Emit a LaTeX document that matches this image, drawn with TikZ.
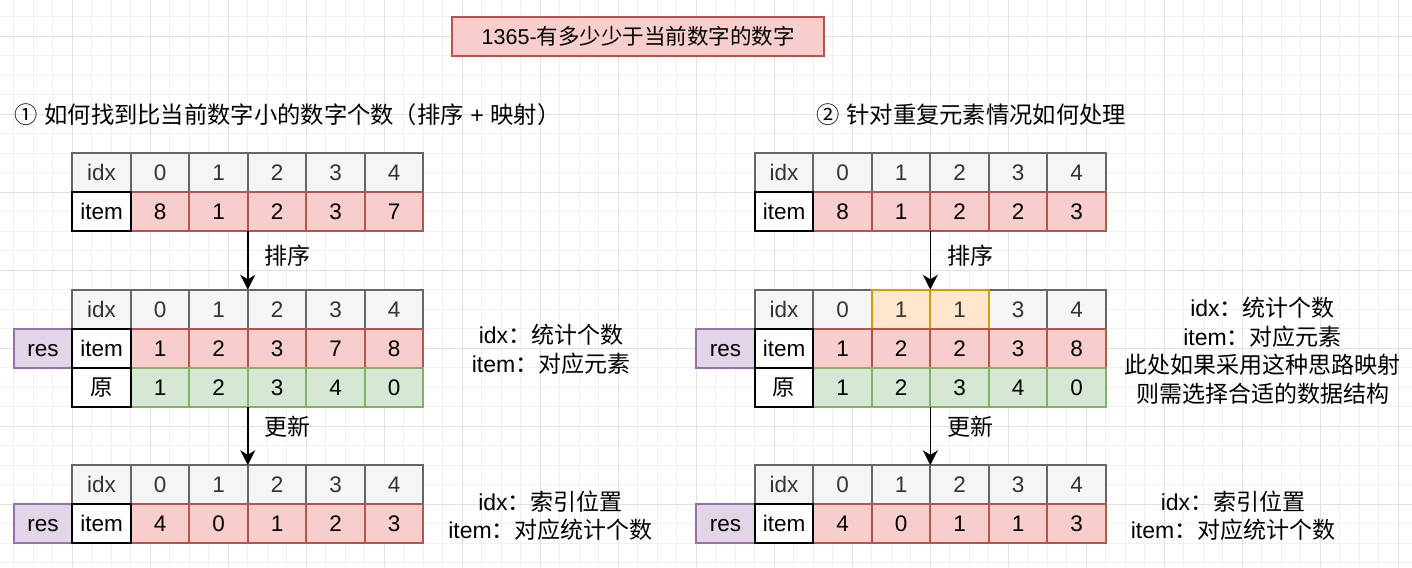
\documentclass[tikz,border=0pt]{standalone}
\usepackage{fontspec}
\setmainfont{Liberation Sans}
\newfontfamily\cjk{Noto Sans CJK SC}
\usetikzlibrary{arrows.meta}
\newcommand{\zh}[1]{{\cjk #1}}
\definecolor{gridminor}{HTML}{F0F0F0}
\definecolor{gridmajor}{HTML}{E0E0E0}
\definecolor{redfill}{HTML}{F8CECC}
\definecolor{redline}{HTML}{B85450}
\definecolor{greyfill}{HTML}{F5F5F5}
\definecolor{greyline}{HTML}{666666}
\definecolor{greenfill}{HTML}{D5E8D4}
\definecolor{greenline}{HTML}{82B366}
\definecolor{purplefill}{HTML}{E1D5E7}
\definecolor{purpleline}{HTML}{9673A6}
\definecolor{orangefill}{HTML}{FFE6CC}
\definecolor{orangeline}{HTML}{D79B00}
\definecolor{darktext}{HTML}{333333}
% #1 prefix, #2 X, #3 Y, #4 label style, #5 label, #6 list style/value
\newcommand{\tabrow}[6]{%
  \foreach \s/\v [count=\i] in {#6} {
    \node[\s] (#1\i) at ({#2+58.5*\i},#3) {\v};
  }
  \node[#4] (#1l) at (#2,#3) {#5};
}
\begin{document}
\begin{tikzpicture}[x=1pt,y=-1pt,
  cell/.style={rectangle, minimum width=58.5pt, minimum height=39pt, inner sep=0pt, outer sep=0pt,
    anchor=north west, line width=1.9pt, text height=16pt, text depth=0pt,
    font=\fontsize{22.5}{27}\selectfont},
  cellhdr/.style={cell, fill=greyfill, draw=greyline, text=darktext},
  cellred/.style={cell, fill=redfill, draw=redline},
  cellgreen/.style={cell, fill=greenfill, draw=greenline},
  cellorange/.style={cell, fill=orangefill, draw=orangeline, text=darktext},
  celllab/.style={cell, fill=white, draw=black},
  cellres/.style={cell, fill=purplefill, draw=purpleline},
  notetext/.style={align=center, inner sep=0pt, font=\fontsize{23}{28.5}\selectfont},
  headtext/.style={anchor=west, inner sep=0pt, font=\fontsize{23.3}{28}\selectfont},
  arrowline/.style={line width=1.5pt, -{Stealth[length=15pt,width=15pt,inset=4.5pt]}},
  arrowlabel/.style={anchor=west, inner sep=0pt, font=\fontsize{23}{28}\selectfont}
]
% background and grid
\fill[white] (0,0) rectangle (1412,567);
\useasboundingbox (0,0) rectangle (1412,567);
\foreach \k in {-3,...,68} \draw[gridminor, line width=0.9pt] ({72.3+19.5*\k},0) -- ({72.3+19.5*\k},567);
\foreach \k in {-1,...,27} \draw[gridminor, line width=0.9pt] (0,{36.3+19.5*\k}) -- (1412,{36.3+19.5*\k});
\foreach \k in {0,...,17} \draw[gridmajor, line width=0.9pt] ({72.3+78*\k},0) -- ({72.3+78*\k},567);
\foreach \k in {0,...,6} \draw[gridmajor, line width=0.9pt] (0,{36.3+78*\k}) -- (1412,{36.3+78*\k});

% title
\node[rectangle, fill=redfill, draw=redline, line width=1.9pt, minimum width=371.7pt, minimum height=39.5pt,
  inner sep=0pt, font=\fontsize{21.5}{26}\selectfont] (title) at (638.2,36.5) {1365-\zh{有多少少于当前数字的数字}};

% headings
\node[headtext] (head1) at (14.5,115) {\zh{①} \zh{如何找到比当前数字小的数字个数（排序} + \zh{映射）}};
\node[headtext] (head2) at (816.5,115) {\zh{②} \zh{针对重复元素情况如何处理}};

% ---------- left part ----------
\tabrow{A}{72.3}{153.3}{cellhdr}{idx}{cellhdr/0,cellhdr/1,cellhdr/2,cellhdr/3,cellhdr/4}
\tabrow{B}{72.3}{192.3}{celllab}{item}{cellred/8,cellred/1,cellred/2,cellred/3,cellred/7}

\node[cellres] (Cres) at (13.8,328.8) {res};
\tabrow{C}{72.3}{289.8}{cellhdr}{idx}{cellhdr/0,cellhdr/1,cellhdr/2,cellhdr/3,cellhdr/4}
\tabrow{D}{72.3}{328.8}{celllab}{item}{cellred/1,cellred/2,cellred/3,cellred/7,cellred/8}
\tabrow{E}{72.3}{367.8}{celllab}{\zh{原}}{cellgreen/1,cellgreen/2,cellgreen/3,cellgreen/4,cellgreen/0}

\tabrow{F}{72.3}{465.3}{cellhdr}{idx}{cellhdr/0,cellhdr/1,cellhdr/2,cellhdr/3,cellhdr/4}
\node[cellres] (Gres) at (13.8,504.3) {res};
\tabrow{G}{72.3}{504.3}{celllab}{item}{cellred/4,cellred/0,cellred/1,cellred/2,cellred/3}

\draw[arrowline] (B3.south west) -- (C3.north west);
\draw[arrowline] (E3.south west) -- (F3.north west);
\node[arrowlabel] (lab1) at (264.5,255.7) {\zh{排序}};
\node[arrowlabel] (lab2) at (264.5,426.7) {\zh{更新}};

\node[notetext] (note1) at (551,349.5) {idx\zh{：统计个数}\\item\zh{：对应元素}};
\node[notetext] (note2) at (550.5,516) {idx\zh{：索引位置}\\item\zh{：对应统计个数}};

% ---------- right part ----------
\tabrow{H}{754.8}{153.3}{cellhdr}{idx}{cellhdr/0,cellhdr/1,cellhdr/2,cellhdr/3,cellhdr/4}
\tabrow{J}{754.8}{192.3}{celllab}{item}{cellred/8,cellred/1,cellred/2,cellred/2,cellred/3}

\node[cellres] (Kres) at (696.3,328.8) {res};
\foreach \i/\s/\v in {1/cellhdr/0,4/cellhdr/3,5/cellhdr/4,2/cellorange/1,3/cellorange/1}
  \node[\s] (K\i) at ({754.8+58.5*\i},289.8) {\v};
\node[cellhdr] (Kl) at (754.8,289.8) {idx};
\tabrow{M}{754.8}{328.8}{celllab}{item}{cellred/1,cellred/2,cellred/2,cellred/3,cellred/8}
\tabrow{N}{754.8}{367.8}{celllab}{\zh{原}}{cellgreen/1,cellgreen/2,cellgreen/3,cellgreen/4,cellgreen/0}

\tabrow{P}{754.8}{465.3}{cellhdr}{idx}{cellhdr/0,cellhdr/1,cellhdr/2,cellhdr/3,cellhdr/4}
\node[cellres] (Qres) at (696.3,504.3) {res};
\tabrow{Q}{754.8}{504.3}{celllab}{item}{cellred/4,cellred/0,cellred/1,cellred/1,cellred/3}

\draw[arrowline] (J3.south west) -- (K3.north west);
\draw[arrowline] (N3.south west) -- (P3.north west);
\node[arrowlabel] (lab3) at (947,255.7) {\zh{排序}};
\node[arrowlabel] (lab4) at (947,426.7) {\zh{更新}};

\node[notetext] (note3) at (1262.5,350.5) {idx\zh{：统计个数}\\item\zh{：对应元素}\\\zh{此处如果采用这种思路映射}\\\zh{则需选择合适的数据结构}};
\node[notetext] (note4) at (1233,516) {idx\zh{：索引位置}\\item\zh{：对应统计个数}};
\end{tikzpicture}
\end{document}
